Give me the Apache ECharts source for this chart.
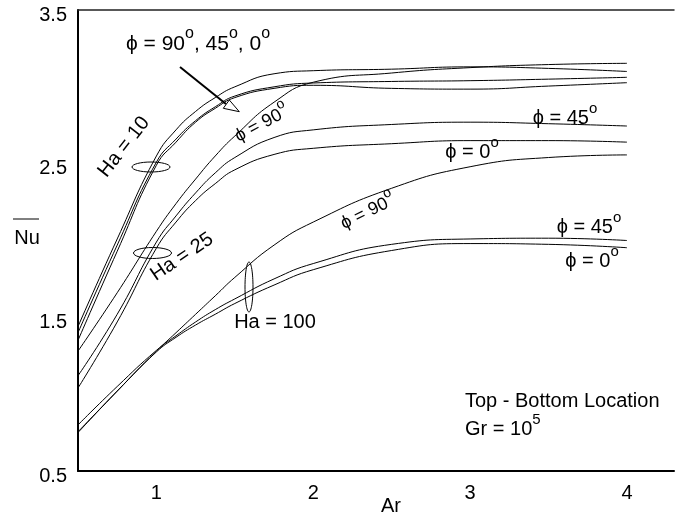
<!DOCTYPE html>
<html>
<head>
<meta charset="utf-8">
<script src="https://cdn.jsdelivr.net/npm/echarts@6/dist/echarts.min.js"></script>
<style>
  html, body { margin: 0; padding: 0; background: #fff; }
  #chart { width: 677px; height: 517px; }
</style>
</head>
<body>
<div id="chart"></div>
<script>
// Aspect ratio values shared by every curve
const arValues = [0.5, 0.75, 1, 1.125, 1.25, 1.375, 1.5, 1.75, 2, 2.5, 3, 3.5, 4];

// Mean Nusselt number, Ha = 10
const nuHa10Phi90 = [1.44, 2.01, 2.55, 2.72, 2.84, 2.93, 3.00, 3.085, 3.105, 3.115, 3.13, 3.12, 3.10];
const nuHa10Phi45 = [1.40, 1.97, 2.51, 2.66, 2.78, 2.87, 2.94, 3.00, 3.025, 3.035, 3.04, 3.05, 3.062];
const nuHa10Phi0  = [1.35, 1.93, 2.49, 2.64, 2.77, 2.86, 2.93, 2.99, 3.01, 2.99, 2.985, 3.005, 3.027];

// Mean Nusselt number, Ha = 25
const nuHa25Phi90 = [1.28, 1.66, 2.06, 2.24, 2.40, 2.55, 2.68, 2.90, 3.03, 3.09, 3.125, 3.145, 3.153];
const nuHa25Phi45 = [1.12, 1.52, 1.99, 2.16, 2.31, 2.44, 2.54, 2.67, 2.72, 2.755, 2.77, 2.76, 2.745];
const nuHa25Phi0  = [1.04, 1.47, 1.95, 2.12, 2.26, 2.37, 2.46, 2.56, 2.60, 2.63, 2.65, 2.65, 2.64];

// Mean Nusselt number, Ha = 100
const nuHa100Phi90 = [0.755, 1.02, 1.28, 1.40, 1.52, 1.64, 1.76, 1.97, 2.12, 2.34, 2.48, 2.54, 2.557];
const nuHa100Phi45 = [0.80, 1.05, 1.285, 1.38, 1.47, 1.55, 1.62, 1.75, 1.85, 1.975, 2.01, 2.015, 2.00];
const nuHa100Phi0  = [0.75, 1.02, 1.275, 1.37, 1.45, 1.52, 1.59, 1.71, 1.81, 1.935, 1.98, 1.975, 1.953];

const seriesNames = [
  'Ha = 10, φ = 90°', 'Ha = 10, φ = 45°', 'Ha = 10, φ = 0°',
  'Ha = 25, φ = 90°', 'Ha = 25, φ = 45°', 'Ha = 25, φ = 0°',
  'Ha = 100, φ = 90°', 'Ha = 100, φ = 45°', 'Ha = 100, φ = 0°'
];
const seriesValues = [
  nuHa10Phi90, nuHa10Phi45, nuHa10Phi0,
  nuHa25Phi90, nuHa25Phi45, nuHa25Phi0,
  nuHa100Phi90, nuHa100Phi45, nuHa100Phi0
];

const xTickLabels = ['1', '2', '3', '4'];
const yTickLabels = ['0.5', '1.5', '2.5', '3.5'];

const FONT = 'Liberation Sans, Arial, Helvetica, sans-serif';
const INK = '#000';

// rich-text styles: normal run + raised small "o" used for degrees / exponent
function richStyles(size) {
  return {
    t: { fontSize: size, fontFamily: FONT, color: INK, lineHeight: Math.round(size * 1.7) },
    s: { fontSize: Math.round(size * 0.75), fontFamily: FONT, color: INK, lineHeight: Math.round(size * 0.8), verticalAlign: 'top' }
  };
}

function label(x, y, text, opts) {
  opts = opts || {};
  const size = opts.size || 20;
  return {
    type: 'text',
    x: x, y: y,
    rotation: (opts.angle || 0) * Math.PI / 180,
    style: {
      text: text,
      rich: richStyles(size),
      fontSize: size,
      fontFamily: FONT,
      fill: INK,
      align: opts.align || 'center',
      verticalAlign: 'middle'
    },
    z: 10
  };
}

function ellipse(cx, cy, rx, ry) {
  return {
    type: 'ellipse',
    shape: { cx: cx, cy: cy, rx: rx, ry: ry },
    style: { fill: 'none', stroke: INK, lineWidth: 1 },
    z: 10
  };
}

const chart = echarts.init(document.getElementById('chart'), null, { renderer: 'canvas' });

const option = {
  backgroundColor: '#fff',
  animation: false,
  grid: { left: 78, right: 0, top: 10, bottom: 46 },
  xAxis: [{
    type: 'value',
    min: 0.5, max: 4.3, interval: 0.5,
    axisLine: { show: true, lineStyle: { color: INK, width: 2 } },
    axisTick: { show: false },
    splitLine: { show: false },
    axisLabel: {
      margin: 12,
      fontSize: 20, fontFamily: FONT, color: INK,
      formatter: v => (xTickLabels.indexOf(String(v)) >= 0 ? String(v) : '')
    }
  }, {
    type: 'value',
    position: 'top',
    min: 0.5, max: 4.3, interval: 0.5,
    axisLine: { show: true, lineStyle: { color: '#222', width: 1.5 } },
    axisTick: { show: false },
    axisLabel: { show: false },
    splitLine: { show: false }
  }],
  yAxis: {
    type: 'value',
    min: 0.5, max: 3.5, interval: 0.5,
    axisLine: { show: true, lineStyle: { color: INK, width: 2 } },
    axisTick: { show: false },
    splitLine: { show: false },
    axisLabel: {
      margin: 11,
      verticalAlign: 'top',
      lineHeight: 10,
      fontSize: 20, fontFamily: FONT, color: INK,
      formatter: v => {
        const s = v.toFixed(1);
        return yTickLabels.indexOf(s) >= 0 ? s : '';
      }
    }
  },
  series: seriesValues.map((vals, i) => ({
    name: seriesNames[i],
    type: 'line',
    xAxisIndex: 0,
    smooth: 0.5,
    showSymbol: false,
    symbol: 'none',
    lineStyle: { color: INK, width: 1 },
    data: arValues.map((a, k) => [a, vals[k]])
  })),
  graphic: [
    // axis titles
    label(391, 506, '{t|Ar}'),
    label(27, 238, '{t|Nu}'),
    { type: 'line', shape: { x1: 13, y1: 219, x2: 39, y2: 219 }, style: { stroke: INK, lineWidth: 1 } },

    // Ha = 10 bundle
    label(198, 44, '{t|ϕ = 90}{s|o}{t|, 45}{s|o}{t|, 0}{s|o}', { size: 21 }),
    { type: 'line', shape: { x1: 180, y1: 67, x2: 226, y2: 104 }, style: { stroke: INK, lineWidth: 2 }, z: 10 },
    { type: 'polygon', shape: { points: [[229.3, 100], [239.3, 111.7], [223.3, 108.3]] }, style: { fill: '#fff', stroke: INK, lineWidth: 1 }, z: 11 },
    label(124, 147, '{t|Ha = 10}', { angle: 52 }),
    ellipse(151, 167, 19, 5),

    // Ha = 25 bundle
    label(182, 257, '{t|Ha = 25}', { angle: 34 }),
    ellipse(152.5, 253, 19, 5.5),
    label(262, 124, '{t|ϕ = 90}{s|o}', { angle: 28, size: 18 }),
    label(565, 118, '{t|ϕ = 45}{s|o}'),
    label(472, 152, '{t|ϕ = 0}{s|o}'),

    // Ha = 100 bundle
    ellipse(249, 287, 4, 25),
    label(275, 322, '{t|Ha = 100}'),
    label(368, 212, '{t|ϕ = 90}{s|o}', { angle: 26, size: 18 }),
    label(589, 227, '{t|ϕ = 45}{s|o}'),
    label(592, 261, '{t|ϕ = 0}{s|o}'),

    // configuration note
    label(465, 401, '{t|Top - Bottom Location}', { align: 'left' }),
    label(465, 429, '{t|Gr = 10}{s|5}', { align: 'left' })
  ]
};

chart.setOption(option);
</script>
</body>
</html>
